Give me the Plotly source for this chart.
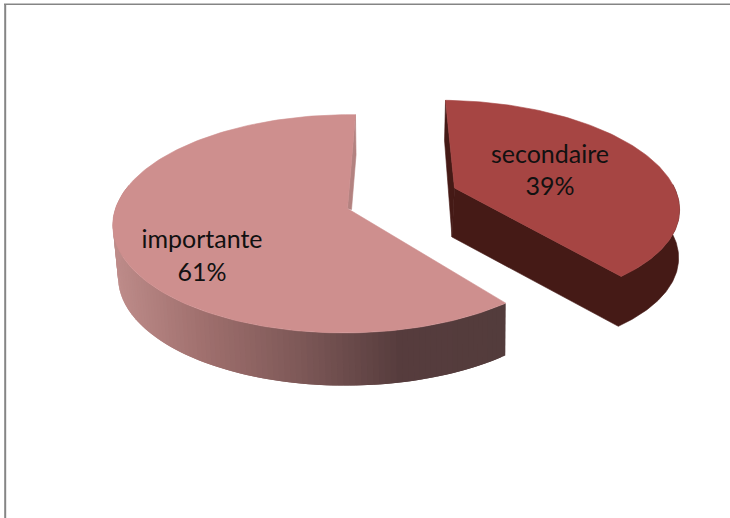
import math
import plotly.graph_objects as go

categories = ["secondaire", "importante"]
values = [39, 61]

ROTATION = 1.5
K = 0.14
# apex x, apex y, half width, half depth, shear for each slice (top and bottom faces)
GEOM = {
    "secondaire": {"top": (454.5, 188, 220, 100, 16), "bot": (452, 237, 222, 101, 14)},
    "importante": {"top": (347.5, 208.5, 232, 107, -3), "bot": (350, 260, 229, 108, -4)},
}
TOP_COLORS = ["#a64543", "#ce8f8e"]
RED_WALL = "#451a16"
PINK_SLIVER = "#b38280"
GRAD_X = [113, 200, 300, 400, 505]
GRAD_RGB = [(190, 140, 138), (160, 112, 110), (125, 88, 87), (86, 60, 61), (83, 60, 60)]
BORDER = "#858585"


def project(deg, g):
    cx, cy, s, t, shear = g
    u, v = math.sin(math.radians(deg)), -math.cos(math.radians(deg))
    d = 1 - K * v
    return cx + (s * u + shear * v) / d, cy + t * v / d


def grad(x):
    for i in range(len(GRAD_X) - 1):
        if x <= GRAD_X[i + 1]:
            f = max(0, (x - GRAD_X[i]) / (GRAD_X[i + 1] - GRAD_X[i]))
            c = [round(a + (b - a) * f) for a, b in zip(GRAD_RGB[i], GRAD_RGB[i + 1])]
            return f"rgb({c[0]},{c[1]},{c[2]})"
    return "rgb(83,60,60)"


def poly(pts, color, lw=0.6):
    return go.Scatter(
        x=[p[0] for p in pts] + [pts[0][0]], y=[p[1] for p in pts] + [pts[0][1]],
        mode="lines", fill="toself", fillcolor=color,
        line=dict(color=color, width=lw), hoverinfo="skip", showlegend=False)


def arc(a, b, g, n=90):
    return [project(a + (b - a) * i / n, g) for i in range(n + 1)]


total = sum(values)
a_red0 = ROTATION
a_red1 = a_red0 + 360 * values[0] / total
a_pink0 = a_red1
a_pink1 = a_pink0 + 360 * values[1] / total

g_r, g_p = GEOM[categories[0]], GEOM[categories[1]]
traces = []

# pink wall, shaded segment by segment; each overlaps the next so no seams show
N = 110
wall_end = 283
step = (wall_end - a_pink0) / N
for i in range(N):
    a = a_pink0 + step * i
    b = min(wall_end, a + 2 * step)
    mid = project(a + step / 2, g_p["top"])[0]
    pts = arc(a, b, g_p["top"], 2) + arc(b, a, g_p["bot"], 2)
    traces.append(poly(pts, grad(mid), 0))

# pink thin inner face
ps = project(a_pink1, g_p["top"])
pa = g_p["top"][:2]
traces.append(poly([ps, (ps[0] + 0.6, ps[1] + 40), (pa[0] + 4, pa[1] + 1), pa], PINK_SLIVER))
# pink top
traces.append(poly([pa] + arc(a_pink0, a_pink1, g_p["top"], 160), TOP_COLORS[1]))

# red walls, inner and outer faces as one shape
ra, rb = g_r["top"][:2], g_r["bot"][:2]
traces.append(poly([ra] + arc(a_red1, 88, g_r["top"]) + arc(88, a_red1, g_r["bot"]) + [rb], RED_WALL))
rs = project(a_red0, g_r["top"])
traces.append(poly([rs, (rs[0] - 1, rs[1] + 40), rb, ra], RED_WALL))
# red top
traces.append(poly([ra] + arc(a_red0, a_red1, g_r["top"], 120), TOP_COLORS[0]))

# labels
label_pos = {categories[0]: (550, 172.5), categories[1]: (202, 258)}
for cat, val in zip(categories, values):
    traces.append(go.Scatter(
        x=[label_pos[cat][0]], y=[label_pos[cat][1]], mode="text",
        text=[f"{cat}<br>{val}%"], textposition="middle center",
        textfont=dict(family="Lato, Carlito, Open Sans, sans-serif", size=25, color="#111111"),
        hoverinfo="skip", showlegend=False))

fig = go.Figure(traces)
fig.update_layout(
    width=730, height=518, margin=dict(l=0, r=0, t=0, b=0),
    paper_bgcolor="white", plot_bgcolor="white",
    xaxis=dict(range=[0, 730], visible=False, fixedrange=True),
    yaxis=dict(range=[518, 0], visible=False, fixedrange=True),
    shapes=[
        dict(type="line", x0=4, x1=730, y0=4.2, y1=4.2, line=dict(color=BORDER, width=1.6)),
        dict(type="line", x0=5.2, x1=5.2, y0=4, y1=518, line=dict(color=BORDER, width=2)),
    ],
)
fig.write_html("out.html", config={"displayModeBar": False},
               post_script="document.body.style.margin='0';document.body.style.overflow='hidden';")
